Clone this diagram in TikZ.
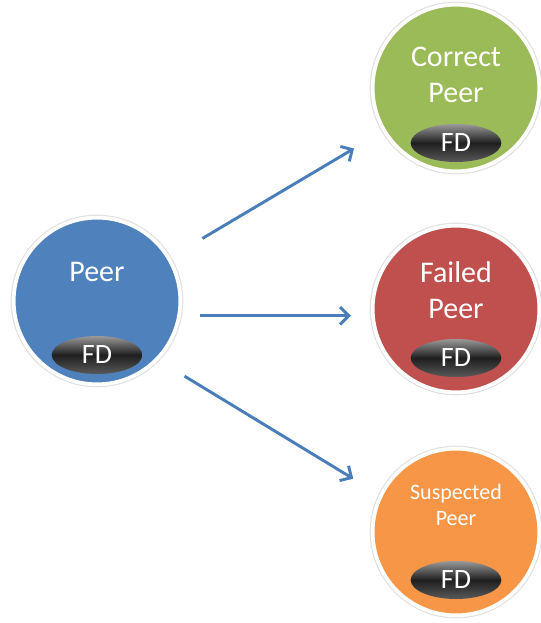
\documentclass[tikz,border=0pt]{standalone}
\usepackage{fontspec}
\setmainfont{Carlito}
\usetikzlibrary{arrows.meta,shapes.geometric}
\definecolor{peerblue}{HTML}{4F81BD}
\definecolor{peergreen}{HTML}{9BBB59}
\definecolor{peerred}{HTML}{C0504D}
\definecolor{peerorange}{HTML}{F79646}
\definecolor{arrowblue}{HTML}{4A7EBB}
\tikzset{
  peernode/.style={circle,fill=#1,draw=white,line width=2.8pt,minimum size=125pt,inner sep=0pt,
    preaction={draw=black!12,line width=4.5pt}},
  fdnode/.style={ellipse,minimum width=68pt,minimum height=28.5pt,inner sep=0pt,
    top color=black!40,bottom color=black!65,middle color=black!88,text=white,
    font=\fontsize{21}{21}\selectfont},
  labelnode/.style={text=white,align=center,font=\fontsize{22.5}{27}\selectfont},
  smalllabel/.style={text=white,align=center,font=\fontsize{16.5}{19.5}\selectfont},
  flow/.style={draw=arrowblue,line width=2.2pt,-{Straight Barb[length=6.5pt,width=13pt]}}
}
\begin{document}
\begin{tikzpicture}[x=0.75pt,y=-0.75pt]
  \useasboundingbox (0,0) rectangle (540,623);
  % circles
  \node[peernode=peerblue] (peer) at (97,301) {};
  \node[peernode=peergreen] (correct) at (456,88) {};
  \node[peernode=peerred] (failed) at (456,309) {};
  \node[peernode=peerorange] (suspected) at (456,532) {};
  % texts
  \node[labelnode] (peertext) at (97,272) {Peer};
  \node[labelnode] (correcttext) at (456,75) {Correct\\Peer};
  \node[labelnode] (failedtext) at (456,290) {Failed\\Peer};
  \node[smalllabel] (suspectedtext) at (456,505) {Suspected\\Peer};
  % failure detectors
  \node[fdnode] (peerfd) at (97,355) {FD};
  \node[fdnode] (correctfd) at (456,143) {FD};
  \node[fdnode] (failedfd) at (456,358) {FD};
  \node[fdnode] (suspectedfd) at (456,580) {FD};
  % arrows
  \draw[flow,shorten <=28pt,shorten >=25pt] (peer) -- (correct);
  \draw[flow,shorten <=14pt,shorten >=15pt] (peer.-10) -- (failed.west |- peer.-10);
  \draw[flow,shorten <=23pt,shorten >=23pt] (peer.-44) -- (suspected.154);
\end{tikzpicture}
\end{document}
